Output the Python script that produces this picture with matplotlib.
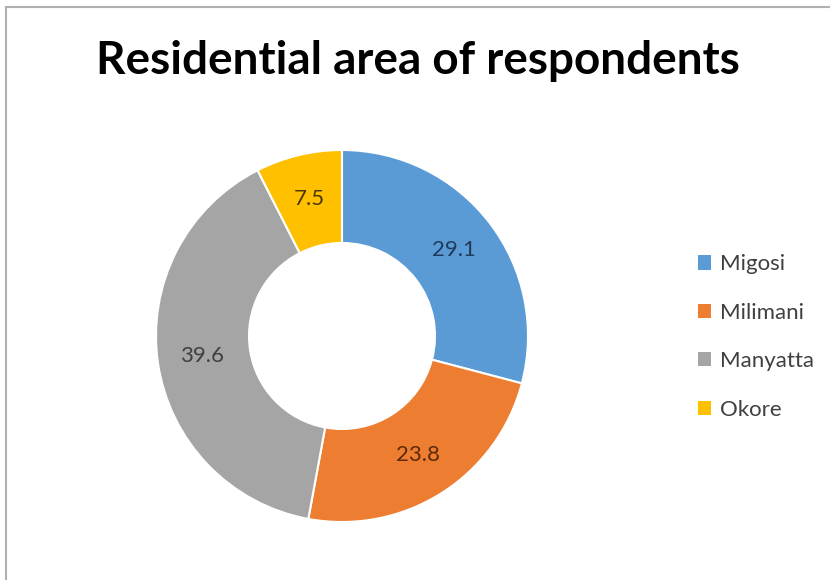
import numpy as np
import matplotlib.pyplot as plt
from matplotlib.lines import Line2D
from matplotlib.patches import Patch

# Andel respondenter per bostadsområde (%)
areas = ["Migosi", "Milimani", "Manyatta", "Okore"]
shares = [29.1, 23.8, 39.6, 7.5]
colors = ["#5B9BD5", "#ED7D31", "#A5A5A5", "#FFC000"]
label_colors = ["#1F3B5C", "#5C2A0A", "#404040", "#4A3800"]

plt.rcParams['font.family'] = ['Lato', 'DejaVu Sans']

fig = plt.figure(figsize=(8.3, 5.8), dpi=100)
fig.patch.set_facecolor('white')

# Ram upptill och till vänster
fig.add_artist(Line2D([6/830, 6/830], [0, 1 - 7/580], transform=fig.transFigure, color='#B0B0B0', lw=1.5))
fig.add_artist(Line2D([6/830, 1], [1 - 7/580, 1 - 7/580], transform=fig.transFigure, color='#B0B0B0', lw=1.5))

fig.text(418/830, 1 - 61/580, "Residential area of respondents", ha='center', va='center',
         fontsize=33, fontweight='bold', color='black')

# Munkdiagrammet: centrum ca (342, 336), ytterradie ca 186 px
ax = fig.add_axes([(342 - 186)/830, (580 - 336 - 186)/580, 372/830, 372/580])
wedges, texts = ax.pie(shares, colors=colors, startangle=90, counterclock=False,
                       radius=1.0, wedgeprops=dict(width=0.5, edgecolor='white', linewidth=1.5))
for w, val, c in zip(wedges, shares, label_colors):
    ang = np.deg2rad((w.theta1 + w.theta2) / 2)
    ax.text(0.76*np.cos(ang), 0.76*np.sin(ang), f"{val}", ha='center', va='center',
            fontsize=16, color=c)
ax.set_xlim(-1, 1)
ax.set_ylim(-1, 1)
ax.set_aspect('equal')
ax.axis('off')

handles = [Patch(facecolor=c, edgecolor='none') for c in colors]
fig.legend(handles, areas, loc='center left', bbox_to_anchor=(678/830, 1 - 337/580),
           frameon=False, fontsize=16, labelcolor='#404040', handlelength=0.6, handleheight=0.6,
           handletextpad=0.4, labelspacing=1.28)

fig.savefig("out.png", dpi=100, facecolor='white')
